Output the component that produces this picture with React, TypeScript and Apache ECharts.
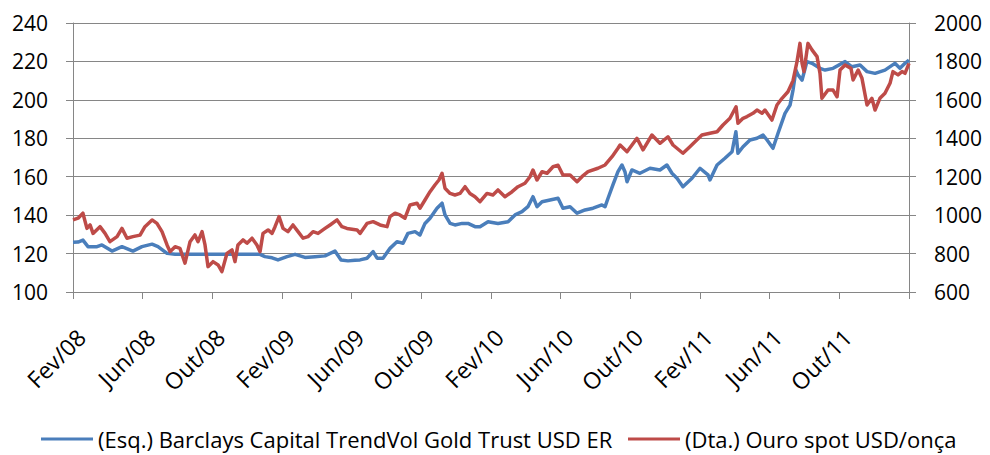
import React, { useEffect, useRef } from "react";
import * as echarts from "echarts";

// Months elapsed since the start of Feb 2008
const blueT = [0,0.29,0.57,0.86,1.38,1.66,2.24,2.81,3.44,3.96,4.54,4.88,5.40,5.86,6.72,7.87,9.02,10.16,10.74,11.02,11.43,11.77,12.29,12.75,13.32,13.90,14.47,15.04,15.39,15.79,16.19,16.48,16.88,17.23,17.46,17.80,18.20,18.60,18.95,19.23,19.64,19.92,20.21,20.50,20.90,21.19,21.36,21.65,21.93,22.34,22.68,23.08,23.37,23.83,24.40,24.98,25.38,25.78,26.12,26.41,26.64,26.93,27.39,27.85,28.13,28.54,28.94,29.40,29.86,30.37,30.55,30.72,31.00,31.29,31.52,31.69,31.81,32.09,32.55,33.13,33.70,34.10,34.39,34.68,35.02,35.54,36.00,36.46,36.57,36.98,37.43,37.84,38.06,38.18,38.47,38.87,39.27,39.62,39.85,40.19,40.48,40.88,41.17,41.34,41.51,41.63,41.86,42.14,42.43,42.89,43.18,43.64,44.33,44.73,45.19,45.59,46.05,46.62,47.19,47.48,47.77,48.00];
const blueV = [125.9,126.0,127.0,123.6,123.6,124.5,121.3,123.6,121.3,123.6,124.9,123.6,120.1,119.7,119.7,119.6,119.7,119.6,119.6,118.4,117.8,116.7,118.4,119.6,118.0,118.4,118.8,121.3,116.7,116.2,116.5,116.7,117.6,121.0,117.6,117.6,122.7,126.2,125.4,130.5,131.4,129.7,135.7,138.4,143.6,146.2,140.1,135.7,134.9,135.7,135.7,134.0,134.0,136.6,135.7,136.6,140.1,141.8,144.4,149.6,144.4,147.0,147.9,148.8,143.6,144.4,141.0,142.7,143.6,145.3,144.4,148.8,155.7,162.6,166.1,162.6,157.4,163.5,161.8,164.4,163.5,166.1,161.8,159.2,154.8,159.2,164.4,161.0,158.3,166.1,169.6,173.0,183.4,172.2,175.6,179.1,180.0,181.7,179.1,174.8,182.6,193.0,197.3,205.1,215.5,213.0,210.3,219.9,219.0,216.4,215.5,216.4,219.9,217.2,218.1,214.7,213.8,215.5,219.0,216.4,219.0,220.7];

const goldT = [0.00,0.29,0.57,0.80,0.98,1.15,1.55,1.84,2.12,2.53,
2.81,3.10,3.44,3.85,4.13,4.54,4.82,5.11,5.40,5.57,
5.86,6.14,6.43,6.72,7.00,7.18,7.41,7.58,7.75,8.04,
8.33,8.55,8.84,9.13,9.30,9.47,9.76,9.99,10.28,10.56,
10.74,10.91,11.20,11.43,11.60,11.83,12.06,12.34,12.63,12.92,
13.21,13.49,13.78,14.07,14.47,14.76,15.16,15.44,15.73,16.31,
16.48,16.88,17.23,17.63,18.03,18.20,18.49,18.77,19.06,19.35,
19.75,19.92,20.21,20.50,20.78,21.01,21.19,21.36,21.65,21.93,
22.22,22.51,22.79,23.08,23.37,23.77,24.11,24.40,24.80,25.21,
25.55,25.95,26.24,26.41,26.64,26.93,27.22,27.56,27.85,28.13,
28.54,28.94,29.22,29.57,30.14,30.55,30.95,31.29,31.41,31.81,
32.38,32.73,33.24,33.70,34.16,34.45,35.02,35.42,36.11,36.57,
36.98,37.32,37.72,38.07,38.18,38.47,38.70,39.04,39.27,39.56,
39.73,40.13,40.42,40.71,41.05,41.34,41.57,41.74,41.86,41.97,
42.20,42.43,42.72,42.89,43.00,43.35,43.64,43.87,44.04,44.33,
44.67,44.79,45.08,45.30,45.59,45.87,46.05,46.33,46.62,46.91,
47.08,47.37,47.60,47.77,48.00];
const goldV = [975,984,1010,931,949,905,940,905,862,888,
931,880,888,896,940,975,957,914,845,810,
836,827,750,862,897,862,914,845,732,758,
741,706,801,819,758,845,871,854,880,845,
810,905,923,905,940,992,931,914,949,914,
880,888,914,905,931,949,975,940,931,923,
905,957,966,949,940,992,1010,1001,984,1053,
1062,1036,1079,1122,1157,1183,1218,1140,1113,1105,
1113,1148,1113,1096,1070,1113,1105,1131,1096,1122,
1148,1166,1200,1235,1183,1226,1218,1252,1260,1209,
1209,1174,1200,1226,1244,1261,1304,1348,1365,1330,
1400,1340,1417,1374,1408,1365,1322,1356,1417,1426,
1434,1469,1504,1564,1478,1504,1513,1530,1547,1530,
1547,1495,1573,1608,1642,1700,1799,1894,1790,1747,
1894,1860,1825,1738,1608,1651,1651,1616,1755,1781,
1764,1703,1755,1712,1573,1608,1547,1608,1634,1686,
1747,1730,1747,1738,1790];

const xTickLabels = ["Fev/08","Jun/08","Out/08","Fev/09","Jun/09","Out/09","Fev/10","Jun/10","Out/10","Fev/11","Jun/11","Out/11"];

const seriesNames = ["(Esq.) Barclays Capital TrendVol Gold Trust USD ER", "(Dta.) Ouro spot USD/onça"];
const seriesColors = ["#4A7EBB", "#BE4B48"];

const FONT = "Open Sans";
const AXIS_COLOR = "#868686";

export default function App() {
  const ref = useRef<HTMLDivElement>(null);
  useEffect(() => {
    if (!ref.current) return;
    const chart = echarts.init(ref.current, undefined, { renderer: "svg" });
    const textStyle = { fontFamily: FONT, fontSize: 21, color: "#000" };
    const legendBase = {
      top: 428,
      itemWidth: 52,
      itemHeight: 3,
      icon: "rect",
      textStyle: { ...textStyle, fontSize: 22 },
      padding: 0,
    };
    chart.setOption({
      animation: false,
      backgroundColor: "#fff",
      grid: { left: 73, right: 81, top: 23, bottom: 163, containLabel: false },
      xAxis: {
        type: "value",
        min: 0,
        max: 48,
        interval: 4,
        axisLine: { show: true, lineStyle: { color: AXIS_COLOR, width: 1 } },
        axisTick: { show: true, length: 7, lineStyle: { color: AXIS_COLOR } },
        splitLine: { show: false },
        axisLabel: {
          ...textStyle,
          fontSize: 23,
          rotate: 45,
          margin: 33,
          verticalAlign: "top",
          showMaxLabel: true,
          formatter: (v: number) => xTickLabels[Math.round(v / 4)] ?? "",
        },
      },
      yAxis: [
        {
          type: "value",
          min: 100,
          max: 240,
          interval: 20,
          position: "left",
          axisLine: { show: true, lineStyle: { color: AXIS_COLOR } },
          axisTick: { show: true, length: 7, lineStyle: { color: AXIS_COLOR } },
          splitLine: { show: true, lineStyle: { color: AXIS_COLOR, width: 1 } },
          axisLabel: { ...textStyle, margin: 25, formatter: (v: number) => String(v) },
        },
        {
          type: "value",
          min: 600,
          max: 2000,
          interval: 200,
          position: "right",
          axisLine: { show: true, lineStyle: { color: AXIS_COLOR } },
          axisTick: { show: true, length: 7, lineStyle: { color: AXIS_COLOR } },
          splitLine: { show: false },
          axisLabel: { ...textStyle, margin: 25, formatter: (v: number) => String(v) },
        },
      ],
      legend: [
        { ...legendBase, left: 41, data: [seriesNames[0]] },
        { ...legendBase, left: 628, data: [seriesNames[1]] },
      ],
      series: [
        {
          name: seriesNames[0],
          type: "line",
          yAxisIndex: 0,
          data: blueT.map((t, i) => [t, blueV[i]]),
          showSymbol: false,
          symbol: "none",
          color: seriesColors[0],
          lineStyle: { width: 3.5, color: seriesColors[0], join: "round" },
        },
        {
          name: seriesNames[1],
          type: "line",
          yAxisIndex: 1,
          data: goldT.map((t, i) => [t, goldV[i]]),
          showSymbol: false,
          symbol: "none",
          color: seriesColors[1],
          lineStyle: { width: 3.5, color: seriesColors[1], join: "round" },
        },
      ],
    });
    return () => chart.dispose();
  }, []);
  return (
    <div
      ref={ref}
      style={{ position: "fixed", left: 0, top: 0, width: 990, height: 455, background: "#fff" }}
    />
  );
}
